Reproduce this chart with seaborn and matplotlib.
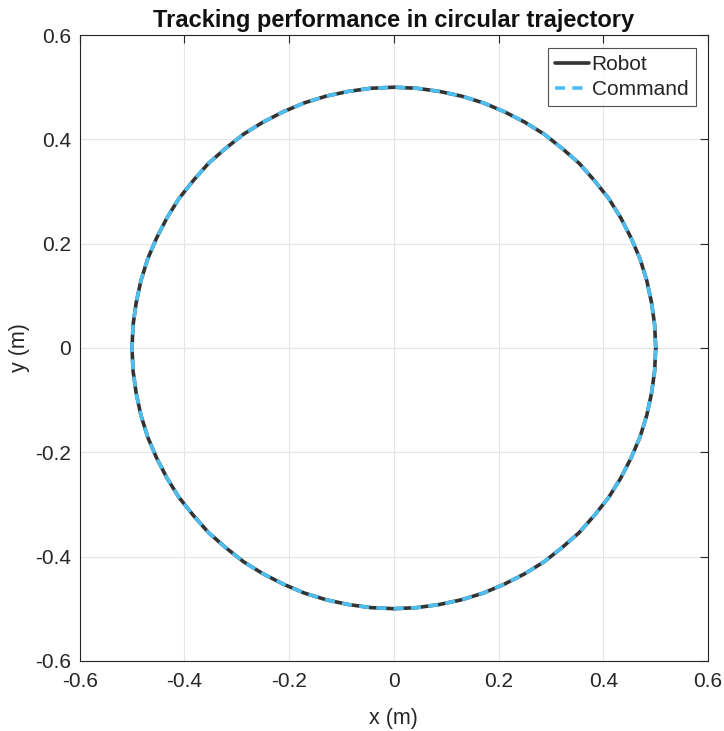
import matplotlib
matplotlib.use("Agg")
import matplotlib.pyplot as plt
import seaborn as sns
import pandas as pd

# trajectory samples (m), every 5 degrees, counter-clockwise from (0.5, 0)
robot_x = [0.5, 0.498, 0.492, 0.483, 0.470, 0.453, 0.433, 0.410, 0.383, 0.354,
           0.321, 0.287, 0.250, 0.211, 0.171, 0.129, 0.087, 0.044,
           0.0, -0.044, -0.087, -0.129, -0.171, -0.211, -0.250, -0.287, -0.321,
           -0.354, -0.383, -0.410, -0.433, -0.453, -0.470, -0.483, -0.492, -0.498,
           -0.5, -0.498, -0.492, -0.483, -0.470, -0.453, -0.433, -0.410, -0.383,
           -0.354, -0.321, -0.287, -0.250, -0.211, -0.171, -0.129, -0.087, -0.044,
           0.0, 0.044, 0.087, 0.129, 0.171, 0.211, 0.250, 0.287, 0.321,
           0.354, 0.383, 0.410, 0.433, 0.453, 0.470, 0.483, 0.492, 0.498, 0.5]
robot_y = [0.0, 0.044, 0.087, 0.129, 0.171, 0.211, 0.250, 0.287, 0.321, 0.354,
           0.383, 0.410, 0.433, 0.453, 0.470, 0.483, 0.492, 0.498,
           0.5, 0.498, 0.492, 0.483, 0.470, 0.453, 0.433, 0.410, 0.383,
           0.354, 0.321, 0.287, 0.250, 0.211, 0.171, 0.129, 0.087, 0.044,
           0.0, -0.044, -0.087, -0.129, -0.171, -0.211, -0.250, -0.287, -0.321,
           -0.354, -0.383, -0.410, -0.433, -0.453, -0.470, -0.483, -0.492, -0.498,
           -0.5, -0.498, -0.492, -0.483, -0.470, -0.453, -0.433, -0.410, -0.383,
           -0.354, -0.321, -0.287, -0.250, -0.211, -0.171, -0.129, -0.087, -0.044, 0.0]
command_x = list(robot_x)
command_y = list(robot_y)
ticks = [-0.6, -0.4, -0.2, 0, 0.2, 0.4, 0.6]
tick_labels = ["-0.6", "-0.4", "-0.2", "0", "0.2", "0.4", "0.6"]

sns.set_style("white")
plt.rcParams['font.family'] = ['Liberation Sans', 'DejaVu Sans']

robot = pd.DataFrame({"x": robot_x, "y": robot_y})
command = pd.DataFrame({"x": command_x, "y": command_y})

fig = plt.figure(figsize=(7.24, 7.31), dpi=100)
ax = fig.add_axes([0.110, 0.096, 0.868, 0.856])

sns.lineplot(data=robot, x="x", y="y", sort=False, estimator=None, ax=ax,
             color="#333333", linewidth=2.6, label="Robot")
sns.lineplot(data=command, x="x", y="y", sort=False, estimator=None, ax=ax,
             color="#4DBEEE", linewidth=2.6, label="Command")
ax.lines[1].set_dashes([2.8, 2.0])

ax.set_xlim(-0.6, 0.6)
ax.set_ylim(-0.6, 0.6)
ax.set_xticks(ticks)
ax.set_xticklabels(tick_labels)
ax.set_yticks(ticks)
ax.set_yticklabels(tick_labels)
ax.grid(True, color="#e6e6e6", linewidth=0.8)
ax.set_axisbelow(True)
ax.tick_params(direction="in", length=6, width=0.8, colors="#262626",
               labelsize=15, top=True, right=True, labelcolor="#262626")
ax.tick_params(axis="x", pad=8)
ax.tick_params(axis="y", pad=6)
for s in ax.spines.values():
    s.set_color("#262626")
    s.set_linewidth(0.8)

ax.set_xlabel("x (m)", fontsize=15.5, color="#262626", labelpad=12)
ax.set_ylabel("y (m)", fontsize=15.5, color="#262626", labelpad=4)
ax.set_title("Tracking performance in circular trajectory", fontsize=17,
             fontweight="bold", color="#111111", pad=6)

leg = ax.legend(loc="upper right", fontsize=15, frameon=True, fancybox=False,
                handlelength=1.6, handletextpad=0.15, borderpad=0.35,
                labelspacing=0.3, borderaxespad=0.6)
leg.get_frame().set_edgecolor("#262626")
leg.get_frame().set_linewidth(0.8)

fig.savefig("out.png", dpi=100)
